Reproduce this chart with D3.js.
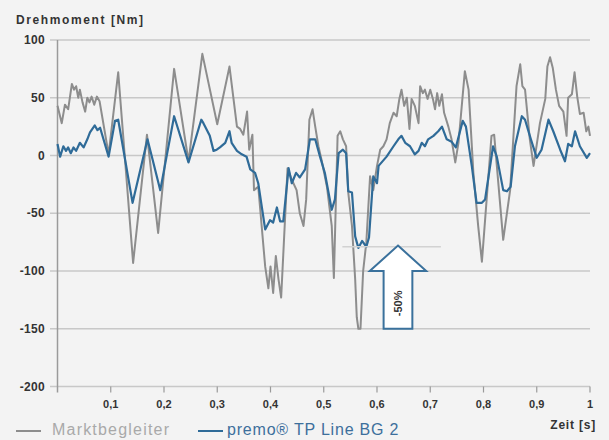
<!DOCTYPE html>
<html>
<head>
<meta charset="utf-8">
<script src="https://cdn.jsdelivr.net/npm/d3@7"></script>
<style>
    body { margin: 0; background: #f3f3f3; }
    svg { display: block; font-family: "Liberation Sans", Arial, sans-serif; }
    .grid { stroke: #c8c8c8; stroke-width: 1.5; }
    .tick-label { font-size: 11px; font-weight: bold; fill: #333; }
</style>
</head>
<body>
<div id="container-svg"></div>
<script>
// Data (time in s, torque in Nm)
const grayT = [0, 0.008, 0.014, 0.020, 0.027, 0.031, 0.035, 0.039, 0.042, 0.047, 0.052, 0.056, 0.060, 0.064, 0.069, 0.074, 0.079, 0.096, 0.114, 0.142, 0.168, 0.189, 0.219, 0.246, 0.272, 0.300, 0.323, 0.337, 0.343, 0.349, 0.356, 0.360, 0.366, 0.369, 0.377, 0.390, 0.396, 0.400, 0.405, 0.410, 0.415, 0.420, 0.432, 0.440, 0.449, 0.455, 0.462, 0.467, 0.473, 0.479, 0.484, 0.490, 0.496, 0.506, 0.515, 0.519, 0.526, 0.531, 0.536, 0.542, 0.546, 0.553, 0.559, 0.562, 0.565, 0.569, 0.574, 0.580, 0.587, 0.593, 0.600, 0.606, 0.612, 0.618, 0.624, 0.631, 0.637, 0.642, 0.646, 0.651, 0.656, 0.661, 0.665, 0.671, 0.678, 0.681, 0.686, 0.690, 0.695, 0.700, 0.705, 0.709, 0.713, 0.717, 0.722, 0.726, 0.734, 0.740, 0.747, 0.753, 0.765, 0.772, 0.781, 0.790, 0.797, 0.815, 0.820, 0.837, 0.850, 0.862, 0.869, 0.873, 0.878, 0.887, 0.894, 0.906, 0.916, 0.920, 0.925, 0.930, 0.936, 0.942, 0.950, 0.956, 0.959, 0.966, 0.971, 0.976, 0.981, 0.988, 0.993, 0.997, 1.0]
const grayV = [43, 28, 44, 40, 62, 57, 60, 50, 57, 46, 38, 50, 46, 51, 44, 51, 47, 1, 72, -93, 18, -67, 75, -5, 88, 27, 77, 25, 23, 18, 38, 5, 18, -30, -27, -96, -115, -96, -119, -87, -107, -123, -11, -21, -30, -50, -61, -38, 31, 40, 25, 8, -4, -27, -61, -106, 17, 21, 14, 8, -32, -61, -107, -140, -150, -150, -100, -75, -18, -30, -9, 5, 8, 14, 28, 37, 34, 49, 57, 43, 50, 23, 49, 43, 28, 60, 54, 57, 49, 57, 49, 40, 54, 43, 53, 37, 25, 14, -6, 11, 73, 57, -15, -61, -92, 17, 18, -73, -30, 60, 79, 60, 57, 14, -9, 28, 49, 77, 85, 76, 57, 43, 38, 17, 50, 53, 72, 51, 36, 37, 21, 25, 17]

const blueT = [0, 0.005, 0.011, 0.016, 0.020, 0.025, 0.030, 0.035, 0.042, 0.049, 0.056, 0.061, 0.070, 0.075, 0.080, 0.096, 0.108, 0.114, 0.141, 0.169, 0.193, 0.219, 0.246, 0.270, 0.274, 0.286, 0.293, 0.299, 0.305, 0.315, 0.323, 0.327, 0.337, 0.346, 0.355, 0.362, 0.371, 0.377, 0.390, 0.399, 0.405, 0.412, 0.418, 0.424, 0.434, 0.440, 0.448, 0.455, 0.465, 0.474, 0.484, 0.493, 0.502, 0.515, 0.521, 0.528, 0.536, 0.542, 0.546, 0.553, 0.559, 0.565, 0.572, 0.580, 0.585, 0.593, 0.600, 0.603, 0.618, 0.631, 0.640, 0.646, 0.653, 0.662, 0.671, 0.678, 0.684, 0.690, 0.696, 0.706, 0.715, 0.722, 0.731, 0.740, 0.748, 0.761, 0.767, 0.778, 0.787, 0.797, 0.803, 0.818, 0.825, 0.837, 0.844, 0.851, 0.859, 0.872, 0.878, 0.889, 0.900, 0.909, 0.922, 0.931, 0.944, 0.953, 0.959, 0.966, 0.972, 0.981, 0.994, 1.0]
const blueV = [10, -1, 8, 4, 7, 2, 7, 4, 11, 7, 14, 20, 26, 22, 24, -1, 30, 31, -41, 14, -30, 34, -6, 31, 28, 17, 4, 5, 7, 11, 21, 11, 4, 1, -1, -12, -15, -24, -64, -56, -58, -45, -57, -57, -11, -24, -15, -19, -12, 14, 14, -1, -15, -47, -38, 2, 5, 2, -31, -32, -70, -80, -74, -79, -71, -18, -24, -9, -1, 8, 14, 17, 11, 8, 1, 4, 11, 8, 14, 17, 21, 25, 14, 12, 7, 30, 25, -9, -41, -41, -38, 8, -1, -30, -31, -27, 8, 34, 31, 14, -2, 5, 31, 21, 5, -5, 10, 8, 21, 8, -2, 2]

const yTicks = [100, 50, 0, -50, -100, -150, -200]
const xTicks = [0.1, 0.2, 0.3, 0.4, 0.5, 0.6, 0.7, 0.8, 0.9, 1]
const xTickLabels = ["0,1", "0,2", "0,3", "0,4", "0,5", "0,6", "0,7", "0,8", "0,9", "1"]
const seriesNames = ["Marktbegleiter", "premo® TP Line BG 2"]

const GRAY = "#8d8d8d"
const BLUE = "#2f6b98"

const width = 609
const height = 440

const svg = d3.select("div#container-svg")
    .append("svg")
    .attr("width", width)
    .attr("height", height)

svg.append("rect").attr("width", width).attr("height", height).attr("fill", "#f3f3f3")

const x = d3.scaleLinear().domain([0, 1]).range([57.5, 590])
const y = d3.scaleLinear().domain([-200, 100]).range([386.5, 40])

// Horizontal grid
svg.append("g").selectAll("line")
    .data(yTicks)
    .join("line")
    .attr("class", "grid")
    .attr("x1", 50)
    .attr("x2", x(1))
    .attr("y1", d => y(d))
    .attr("y2", d => y(d))

svg.append("g").selectAll("text")
    .data(yTicks)
    .join("text")
    .attr("class", "tick-label")
    .attr("x", 45)
    .attr("y", d => y(d) + 4)
    .attr("text-anchor", "end")
    .style("font-size", "12px")
    .style("letter-spacing", "0.3px")
    .text(d => d)

// Vertical axis
svg.append("line")
    .attr("x1", x(0)).attr("x2", x(0))
    .attr("y1", y(100)).attr("y2", y(-200) + 6)
    .attr("stroke", "#9a9a9a")
    .attr("stroke-width", 1.5)

// X ticks
svg.append("g").selectAll("line")
    .data(xTicks)
    .join("line")
    .attr("x1", d => x(d)).attr("x2", d => x(d))
    .attr("y1", y(-200)).attr("y2", y(-200) + 6)
    .attr("stroke", "#9a9a9a")
    .attr("stroke-width", 1.2)

svg.append("g").selectAll("text")
    .data(xTicks)
    .join("text")
    .attr("class", "tick-label")
    .attr("x", d => x(d))
    .attr("y", 408)
    .attr("text-anchor", "middle")
    .text((d, i) => xTickLabels[i])

// Axis titles
svg.append("text")
    .attr("x", 16).attr("y", 24)
    .style("font-size", "12px").style("font-weight", "bold").style("letter-spacing", "1.6px")
    .attr("fill", "#333")
    .text("Drehmoment [Nm]")

svg.append("text")
    .attr("x", 596).attr("y", 429)
    .attr("text-anchor", "end")
    .style("font-size", "12px").style("font-weight", "bold").style("letter-spacing", "0.8px")
    .attr("fill", "#333")
    .text("Zeit [s]")

// Series
const line = d3.line()
    .x(d => x(d[0]))
    .y(d => y(d[1]))

svg.append("path")
    .datum(d3.zip(grayT, grayV))
    .attr("d", line)
    .attr("fill", "none")
    .attr("stroke", GRAY)
    .attr("stroke-width", 2)
    .attr("stroke-linejoin", "round")

svg.append("path")
    .datum(d3.zip(blueT, blueV))
    .attr("d", line)
    .attr("fill", "none")
    .attr("stroke", BLUE)
    .attr("stroke-width", 2.2)
    .attr("stroke-linejoin", "round")

// -50% annotation
const arrowX = 0.6394
svg.append("line")
    .attr("x1", x(0.535)).attr("x2", x(0.72))
    .attr("y1", y(-79)).attr("y2", y(-79))
    .attr("stroke", "#d2d2d2").attr("stroke-width", 1.5)

const arrowPts = [
    [arrowX, -78],
    [arrowX + 0.053, -100],
    [arrowX + 0.027, -100],
    [arrowX + 0.027, -150],
    [arrowX - 0.027, -150],
    [arrowX - 0.027, -100],
    [arrowX - 0.053, -100]
]
svg.append("path")
    .attr("d", line(arrowPts) + "Z")
    .attr("fill", "#ffffff")
    .attr("stroke", "#3a719c")
    .attr("stroke-width", 2)
    .attr("stroke-linejoin", "miter")

svg.append("text")
    .attr("transform", "translate(" + (x(arrowX) + 4) + "," + y(-128) + ") rotate(-90)")
    .attr("text-anchor", "middle")
    .style("font-size", "11px").style("font-weight", "bold")
    .attr("fill", "#333")
    .text("-50%")

// Legend
const legendX = [16, 198]
const legendColors = [GRAY, BLUE]
const legendTextColors = ["#a9a9a9", "#3d6f9c"]
seriesNames.forEach(function(name, i) {
    svg.append("line")
        .attr("x1", legendX[i]).attr("x2", legendX[i] + 25)
        .attr("y1", 431).attr("y2", 431)
        .attr("stroke", legendColors[i]).attr("stroke-width", 2)
    svg.append("text")
        .attr("x", legendX[i] + (i === 0 ? 36 : 29)).attr("y", 435)
        .style("font-size", "16px")
        .style("letter-spacing", i === 0 ? "1.2px" : "0.8px")
        .attr("fill", legendTextColors[i])
        .text(name)
})
</script>
</body>
</html>
